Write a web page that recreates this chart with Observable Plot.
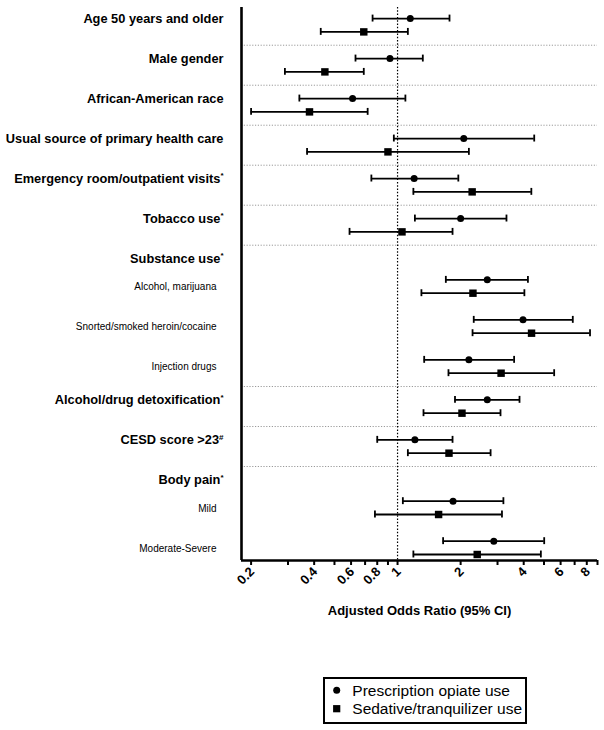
<!DOCTYPE html>
<html>
<head>
<meta charset="utf-8">
<script src="https://cdn.jsdelivr.net/npm/d3@7"></script>
<script src="https://cdn.jsdelivr.net/npm/@observablehq/plot@0.6"></script>
<style>
  body { margin: 0; background: #fff; font-family: "Liberation Sans", Arial, Helvetica, sans-serif; }
  #chart { position: relative; width: 604px; height: 730px; overflow: hidden; }
  #legend { position: absolute; left: 323px; top: 677px; }
</style>
</head>
<body>
<div id="chart"></div>
<script>
// ---- data ----
const labels = [
  "Age 50 years and older",
  "Male gender",
  "African-American race",
  "Usual source of primary health care",
  "Emergency room/outpatient visits*",
  "Tobacco use*",
  "Substance use*",
  "Alcohol, marijuana",
  "Snorted/smoked heroin/cocaine",
  "Injection drugs",
  "Alcohol/drug detoxification*",
  "CESD score >23#",
  "Body pain*",
  "Mild",
  "Moderate-Severe"
];
const labelKinds = ["main","main","main","main","main","main","header","sub","sub","sub","main","main","header","sub","sub"];

const opiateOR   = [1.15, 0.92, 0.61, 2.07, 1.20, 2.00, null, 2.68, 3.97, 2.19, 2.68, 1.21, null, 1.84, 2.88];
const opiateLow  = [0.76, 0.63, 0.34, 0.96, 0.75, 1.21, null, 1.70, 2.31, 1.34, 1.88, 0.80, null, 1.06, 1.65];
const opiateHigh = [1.77, 1.32, 1.09, 4.49, 1.95, 3.31, null, 4.19, 6.86, 3.60, 3.82, 1.83, null, 3.20, 5.01];

const sedativeOR   = [0.69, 0.45, 0.38, 0.90, 2.27, 1.05, null, 2.29, 4.36, 3.12, 2.03, 1.76, null, 1.57, 2.40];
const sedativeLow  = [0.43, 0.29, 0.20, 0.37, 1.19, 0.59, null, 1.30, 2.28, 1.75, 1.33, 1.12, null, 0.78, 1.19];
const sedativeHigh = [1.12, 0.69, 0.72, 2.19, 4.35, 1.83, null, 4.03, 8.29, 5.59, 3.10, 2.78, null, 3.15, 4.83];

const seriesNames = ["Prescription opiate use", "Sedative/tranquilizer use"];
const tickValues = [0.2,0.3,0.4,0.5,0.6,0.7,0.8,0.9,1,2,3,4,5,6,7,8,9];
const tickLabels = [0.2,0.4,0.6,0.8,1,2,4,6,8];
const xDomain = [0.18, 9];
const axisTitle = "Adjusted Odds Ratio (95% CI)";

// ---- layout: assign row slots ----
const rows = [];
const separators = [];
let pos = 0, prevKind = null;
labels.forEach((label, i) => {
  const kind = labelKinds[i];
  if (i > 0) {
    if (kind !== "sub") separators.push(pos + 2);
    pos += (kind === "sub" && prevKind === "header") ? 1.6 : 3;
  }
  rows.push({label, kind, slot: pos, i});
  prevKind = kind;
});

const opiate = rows.filter(r => opiateOR[r.i] != null).map(r => ({slot: r.slot, or: opiateOR[r.i], lo: opiateLow[r.i], hi: opiateHigh[r.i]}));
const sedative = rows.filter(r => sedativeOR[r.i] != null).map(r => ({slot: r.slot + 1, or: sedativeOR[r.i], lo: sedativeLow[r.i], hi: sedativeHigh[r.i]}));
const allBars = opiate.concat(sedative);

const yMin = rows[0].slot - 0.83;
const yMax = rows[rows.length - 1].slot + 1.45;

const mainLabels = rows.filter(r => r.kind !== "sub");
const subLabels = rows.filter(r => r.kind === "sub").map(r => ({...r, slot: r.slot + 0.55}));

const capH = 0.26;

const plot = Plot.plot({
  width: 604,
  height: 640,
  marginLeft: 241,
  marginRight: 7,
  marginTop: 7,
  marginBottom: 80,
  style: {fontFamily: "'Liberation Sans', Arial, Helvetica, sans-serif", color: "#000", background: "#fff"},
  x: {type: "log", domain: xDomain},
  y: {domain: [yMin, yMax], reverse: true, axis: null},
  marks: [
    Plot.ruleY(separators, {stroke: "#9a9a9a", strokeWidth: 1, strokeDasharray: "1.2,1.6"}),
    Plot.ruleX([1], {stroke: "#000", strokeWidth: 1.2, strokeDasharray: "1.5,1.8"}),
    Plot.ruleY(allBars, {y: "slot", x1: "lo", x2: "hi", stroke: "#000", strokeWidth: 1.8}),
    Plot.ruleX(allBars, {x: "lo", y1: d => d.slot - capH, y2: d => d.slot + capH, stroke: "#000", strokeWidth: 1.8}),
    Plot.ruleX(allBars, {x: "hi", y1: d => d.slot - capH, y2: d => d.slot + capH, stroke: "#000", strokeWidth: 1.8}),
    Plot.dot(opiate, {x: "or", y: "slot", symbol: "circle", r: 3.5, fill: "#000", stroke: "none"}),
    Plot.dot(sedative, {x: "or", y: "slot", symbol: "square", r: 4.2, fill: "#000", stroke: "none"}),
    Plot.ruleX([xDomain[0]], {stroke: "#000", strokeWidth: 2.6}),
    Plot.ruleY([yMax], {stroke: "#000", strokeWidth: 2.6}),
    Plot.axisX({
      ticks: tickValues,
      tickFormat: () => "",
      tickSize: 5,
      strokeWidth: 2,
      label: null
    }),
    Plot.text(tickLabels, {
      x: d => d, text: d => String(d), frameAnchor: "bottom",
      rotate: -45, textAnchor: "end", dx: 4, dy: 12,
      fontSize: 13, fontWeight: "bold", fill: "#000"
    }),
    Plot.text(mainLabels, {y: "slot", text: "label", frameAnchor: "left", textAnchor: "end", dx: -18, fontWeight: "bold", fontSize: 12.8, fill: "#000"}),
    Plot.text(subLabels, {y: "slot", text: "label", frameAnchor: "left", textAnchor: "end", dx: -25, fontSize: 10, fill: "#000"}),
    Plot.text([axisTitle], {frameAnchor: "bottom", dy: 54, fontWeight: "bold", fontSize: 13, fill: "#000"})
  ]
});

// superscript markers (* and #)
d3.select(plot).selectAll("text").each(function() {
  const t = this.textContent;
  const m = t.match(/^(.+?)([*#])$/);
  if (m && this.childElementCount === 0) {
    this.textContent = m[1];
    d3.select(this).append("tspan").attr("font-size", "8px").attr("dy", "-0.55em").text(m[2]);
  }
});

document.getElementById("chart").appendChild(plot);

// ---- legend ----
const leg = d3.select("#chart").append("svg").attr("id", "legend").attr("width", 204).attr("height", 47);
leg.append("rect").attr("x", 1).attr("y", 1).attr("width", 202).attr("height", 45).attr("fill", "#fff").attr("stroke", "#000").attr("stroke-width", 2);
const sym = [d3.symbolCircle, d3.symbolSquare];
const symSize = [Math.PI * 3.5 * 3.5, 52];
seriesNames.forEach((name, i) => {
  const g = leg.append("g").attr("transform", `translate(13.7,${13.3 + i * 18.4})`);
  g.append("path").attr("d", d3.symbol(sym[i], symSize[i])()).attr("fill", "#000");
  g.append("text").attr("x", 15.6).attr("dy", "0.35em").attr("font-size", "15.5px")
    .attr("font-family", "'Liberation Sans', Arial, sans-serif").attr("fill", "#000").text(name);
});
</script>
</body>
</html>
